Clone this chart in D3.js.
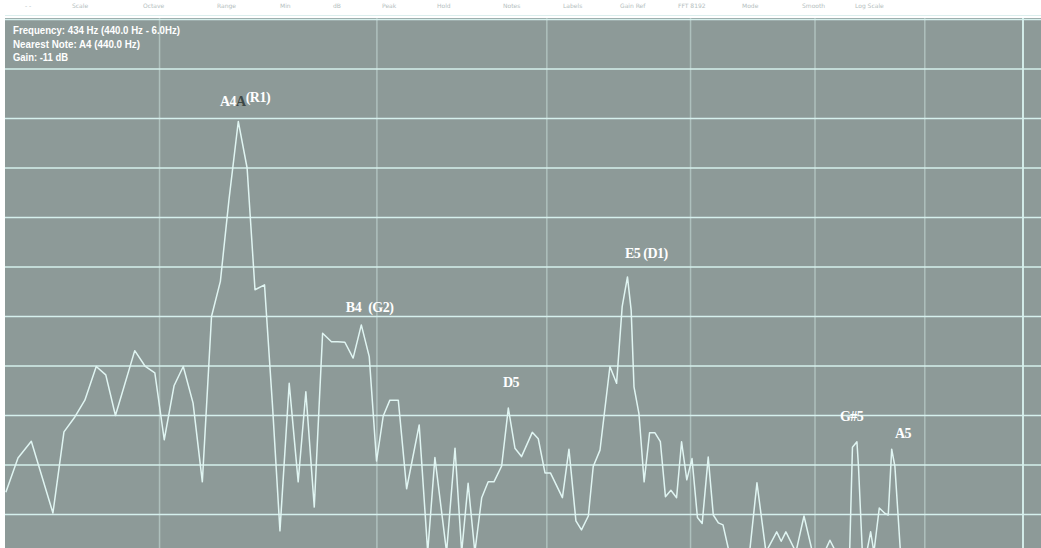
<!DOCTYPE html>
<html>
<head>
<meta charset="utf-8">
<script src="https://cdn.jsdelivr.net/npm/d3@7"></script>
<style>
  body { margin: 0; background: #fff; overflow: hidden; }
</style>
</head>
<body>
<div id="grafico"></div>
<script>
const width = 1041
const height = 548
const plot = { left: 5, top: 18, right: 1041, bottom: 548 }

const svg = d3.select('#grafico')
              .append('svg')
              .attr('width', width)
              .attr('height', height)

// spectrum points: [frequency (Hz), gain (dB)]
const spectrum = [
  [335.8, -85.5], [340.2, -78.6], [345.1, -75.2], [353.2, -89.7], [357.4, -73.3],
  [361.6, -70.3], [365.5, -66.9], [370.0, -60.1], [373.8, -61.8], [377.7, -70.0],
  [385.6, -56.9], [390.0, -60.1], [394.0, -61.4], [398.0, -74.9], [402.2, -64.0],
  [406.2, -60.1], [410.5, -67.5], [414.6, -83.4], [418.7, -50.0], [422.7, -42.9],
  [426.6, -26.5], [430.9, -10.6], [435.0, -20.0], [438.7, -44.6], [443.2, -43.6],
  [447.0, -67.9], [450.6, -93.3], [455.1, -63.5], [459.5, -83.4], [463.3, -65.2],
  [467.5, -88.5], [471.7, -53.4], [476.2, -55.1], [479.5, -55.1], [483.1, -55.2],
  [487.4, -58.4], [491.7, -51.7], [495.9, -58.1], [499.8, -79.2], [503.4, -70.1],
  [507.0, -66.9], [511.6, -66.9], [516.2, -84.8], [523.2, -71.9], [528.0, -97.6],
  [532.1, -78.5], [538.8, -97.6], [543.7, -76.6], [547.6, -97.6], [551.4, -83.7],
  [555.4, -97.6], [559.5, -86.6], [563.4, -83.4], [566.9, -83.4], [571.6, -80.2],
  [575.7, -68.5], [579.8, -76.6], [583.9, -78.3], [590.7, -73.4], [594.5, -74.7],
  [598.8, -81.6], [602.3, -81.6], [610.1, -86.6], [614.4, -76.8], [619.0, -91.3],
  [622.7, -93.1], [627.3, -90.3], [630.6, -80.3], [635.2, -77.0], [642.0, -60.1],
  [646.6, -63.5], [650.5, -48.0], [654.2, -42.0], [656.8, -48.7], [658.8, -64.2],
  [662.3, -69.6], [666.0, -83.4], [669.9, -73.5], [673.8, -73.5], [677.7, -75.3],
  [681.4, -86.4], [685.4, -85.1], [689.6, -86.6], [693.3, -75.3], [697.2, -83.0],
  [701.1, -78.7], [705.2, -90.6], [708.8, -91.8], [713.4, -78.4], [717.3, -90.1],
  [721.2, -91.7], [724.8, -92.1], [730.3, -98.4], [737.4, -101.6], [745.3, -98.8],
  [751.7, -83.6], [759.0, -97.6], [767.8, -93.5], [771.5, -95.4], [775.4, -93.5],
  [783.8, -97.6], [790.6, -90.3], [797.8, -97.6], [805.1, -99.2], [812.9, -95.2],
  [818.2, -97.6], [825.2, -100.2], [830.1, -99.2], [832.8, -76.4], [836.8, -75.3],
  [838.2, -80.3], [841.8, -98.2], [845.0, -98.4], [849.2, -93.5], [852.2, -97.6],
  [857.1, -88.7], [862.4, -89.8], [865.4, -90.1], [868.6, -76.8], [871.6, -80.3],
  [876.8, -97.6], [890.5, -102], [914.8, -104], [944.7, -105], [975.6, -105],
  [1019.5, -106]
]

// note labels placed on the spectrum
const notes = [
  { name: 'A4', extra: '(R1)', f: 422.5, db: -7.5 },
  { name: 'B4', extra: '(G2)', f: 483.6, db: -49.1 },
  { name: 'D5', extra: '', f: 572.4, db: -64.2 },
  { name: 'E5', extra: '(D1)', f: 652.4, db: -38.2 },
  { name: 'G#5', extra: '', f: 821.7, db: -71.1 },
  { name: 'A5', extra: '', f: 871.6, db: -74.5 }
]

const gridFreqs = [396, 500, 600, 700, 800, 900, 1000]
const gridGains = d3.range(10, -91, -10)

const x = d3.scaleLog()
            .domain([333.7, 1019.5])
            .range([0, 1041])

const y = d3.scaleLinear()
            .domain([0, -100])
            .range([69, 564])

// faint strip of toolbar text cut off at the top
const toolbar = [
  [25, '- -'], [72, 'Scale'], [143, 'Octave'], [217, 'Range'], [280, 'Min'],
  [333, 'dB'], [382, 'Peak'], [437, 'Hold'], [503, 'Notes'], [563, 'Labels'],
  [620, 'Gain  Ref'], [678, 'FFT 8192'], [742, 'Mode'], [802, 'Smooth'], [855, 'Log Scale']
]
svg.append('g')
   .selectAll('text')
   .data(toolbar)
   .enter()
   .append('text')
   .attr('x', d => d[0])
   .attr('y', 8)
   .style('font-family', 'DejaVu Sans, sans-serif')
   .style('font-size', '6px')
   .style('fill', '#b4bebe')
   .text(d => d[1])

svg.append('line')
   .attr('x1', plot.left)
   .attr('x2', plot.right)
   .attr('y1', 15.5)
   .attr('y2', 15.5)
   .style('stroke', '#dbeeed')
   .style('stroke-width', 1)

svg.append('rect')
   .attr('x', plot.left)
   .attr('y', plot.top)
   .attr('width', plot.right - plot.left)
   .attr('height', plot.bottom - plot.top)
   .style('fill', '#8d9a98')

svg.append('clipPath')
   .attr('id', 'clip')
   .append('rect')
   .attr('x', plot.left)
   .attr('y', plot.top)
   .attr('width', plot.right - plot.left)
   .attr('height', plot.bottom - plot.top)

const grid = svg.append('g').attr('clip-path', 'url(#clip)')

grid.selectAll('.vline')
    .data(gridFreqs)
    .enter()
    .append('line')
    .attr('class', 'vline')
    .attr('x1', d => x(d))
    .attr('x2', d => x(d))
    .attr('y1', plot.top)
    .attr('y2', plot.bottom)
    .style('stroke', '#d6efec')
    .style('stroke-opacity', d => d === 1000 ? 0.95 : 0.45)
    .style('stroke-width', d => d === 1000 ? 2 : 1.5)

grid.selectAll('.hline')
    .data(gridGains)
    .enter()
    .append('line')
    .attr('class', 'hline')
    .attr('x1', plot.left)
    .attr('x2', plot.right)
    .attr('y1', d => y(d))
    .attr('y2', d => y(d))
    .style('stroke', '#d6f0ed')
    .style('stroke-width', 1.5)

const line = d3.line()
               .x(d => x(d[0]))
               .y(d => y(d[1]))

grid.append('path')
    .datum(spectrum)
    .attr('d', line)
    .style('fill', 'none')
    .style('stroke', '#e0f5f2')
    .style('stroke-width', 1.5)
    .style('stroke-linejoin', 'round')

// peak labels
const label = svg.append('g')
                 .selectAll('text')
                 .data(notes)
                 .enter()
                 .append('text')
                 .attr('x', d => x(d.f))
                 .attr('y', d => y(d.db))
                 .style('font-family', 'Liberation Serif, Times New Roman, serif')
                 .style('font-weight', 'bold')
                 .style('font-size', '14px')
                 .style('letter-spacing', '-0.5px')
                 .style('fill', '#ffffff')

label.append('tspan').text(d => d.name)
label.filter(d => d.name === 'A4')
     .append('tspan')
     .style('fill', '#3c4645')
     .text('A')
label.filter(d => d.extra !== '')
     .append('tspan')
     .attr('dx', d => d.name === 'A4' ? 0 : d.name === 'B4' ? 7 : 3)
     .attr('dy', d => d.name === 'A4' ? -4 : 0)
     .text(d => d.extra)

// readout in the corner
const info = ['Frequency: 434 Hz (440.0 Hz - 6.0Hz)', 'Nearest Note: A4 (440.0 Hz)', 'Gain: -11 dB']
const infoWidth = [167, 127, 55]
svg.append('g')
   .selectAll('text')
   .data(info)
   .enter()
   .append('text')
   .attr('x', 13)
   .attr('y', (d, i) => 34 + i * 13.5)
   .attr('textLength', (d, i) => infoWidth[i])
   .attr('lengthAdjust', 'spacingAndGlyphs')
   .style('font-family', 'Liberation Sans Narrow, Liberation Sans, sans-serif')
   .style('font-weight', 'bold')
   .style('font-size', '10px')
   .style('fill', '#ffffff')
   .text(d => d)
</script>
</body>
</html>
